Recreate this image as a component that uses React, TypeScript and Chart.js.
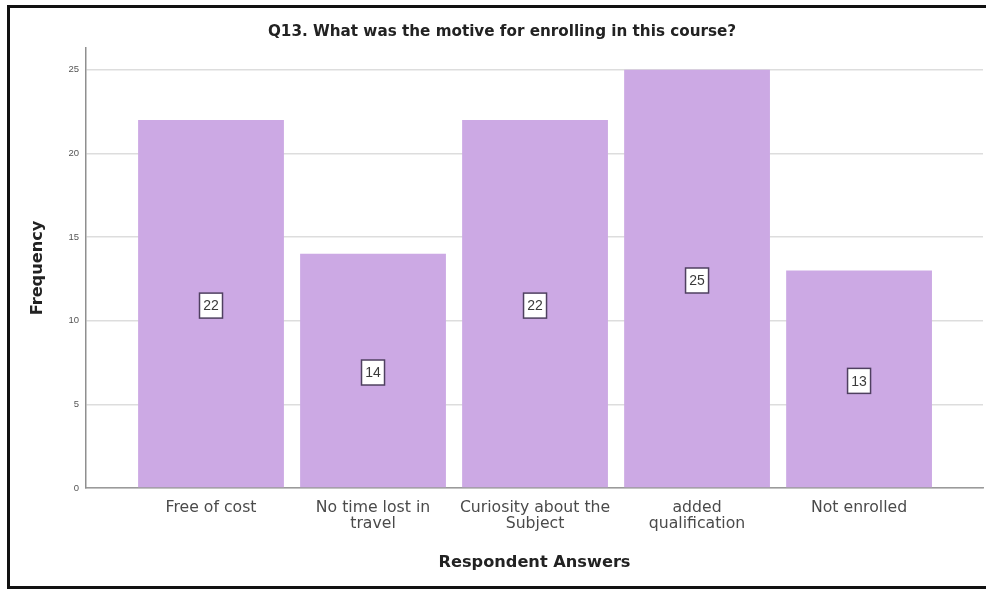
import React, { useEffect, useRef } from "react";
import { Chart, registerables } from "chart.js";

Chart.register(...registerables);

// Survey answers and their frequencies
const answers = [
  "Free of cost",
  "No time lost in travel",
  "Curiosity about the Subject",
  "added qualification",
  "Not enrolled",
];
const frequency = [22, 14, 22, 25, 13];
const answerTickLines = [
  ["Free of cost"],
  ["No time lost in", "travel"],
  ["Curiosity about the", "Subject"],
  ["added", "qualification"],
  ["Not enrolled"],
];
const yTicks = [0, 5, 10, 15, 20, 25];

const chartTitle = "Q13. What was the motive for enrolling in this course?";
const xTitle = "Respondent Answers";
const yTitle = "Frequency";

const FONT = "'Liberation Sans', Arial, sans-serif";
const WIDE_FONT = "'DejaVu Sans', sans-serif";
const BAR_COLOR = "#CCA9E4";

// Titles and boxed value labels drawn on top of the chart
const annotations = {
  id: "annotations",
  afterDatasetsDraw(chart: any) {
    const ctx = chart.ctx;
    const meta = chart.getDatasetMeta(0);
    const values = chart.data.datasets[0].data;
    ctx.save();
    meta.data.forEach((bar: any, i: number) => {
      const v = values[i].y;
      const cx = bar.x;
      const cy = (bar.y + bar.base) / 2 + 2;
      const w = 23;
      const h = 25;
      ctx.fillStyle = "#ffffff";
      ctx.fillRect(cx - w / 2, cy - h / 2, w, h);
      ctx.strokeStyle = "#4f4060";
      ctx.lineWidth = 1.5;
      ctx.strokeRect(cx - w / 2, cy - h / 2, w, h);
      ctx.fillStyle = "#3a3a3a";
      ctx.font = `14px ${FONT}`;
      ctx.textAlign = "center";
      ctx.textBaseline = "middle";
      ctx.fillText(String(v), cx, cy + 1);
    });
    ctx.restore();
  },
  afterDraw(chart: any) {
    const ctx = chart.ctx;
    const area = chart.chartArea;
    ctx.save();
    ctx.fillStyle = "#222222";
    ctx.textAlign = "center";
    ctx.textBaseline = "middle";
    ctx.font = `bold 15.2px ${WIDE_FONT}`;
    ctx.fillText(chartTitle, 502, 32);
    ctx.font = `bold 16.2px ${WIDE_FONT}`;
    ctx.fillText(xTitle, (area.left + area.right) / 2, 563);
    ctx.translate(38, (area.top + area.bottom) / 2);
    ctx.rotate(-Math.PI / 2);
    ctx.fillText(yTitle, 0, 0);
    ctx.restore();
  },
};

export default function App() {
  const canvasRef = useRef<HTMLCanvasElement | null>(null);

  useEffect(() => {
    if (!canvasRef.current) return;
    const chart = new Chart(canvasRef.current, {
      type: "bar",
      data: {
        datasets: [
          {
            label: yTitle,
            data: frequency.map((f, i) => ({ x: i + 1, y: f })),
            backgroundColor: BAR_COLOR,
            borderWidth: 0,
            categoryPercentage: 1,
            barPercentage: 0.9,
          },
        ],
      },
      options: {
        animation: false,
        responsive: false,
        maintainAspectRatio: false,
        layout: { padding: { left: 66, right: 3, top: 48, bottom: 0 } },
        plugins: {
          legend: { display: false },
          tooltip: { enabled: false },
          title: { display: false },
        },
        scales: {
          x: {
            type: "linear",
            offset: false,
            min: 0.2284,
            max: 5.765,
            afterBuildTicks: (scale: any) => {
              scale.ticks = answers.map((_, i) => ({ value: i + 1 }));
            },
            afterFit: (scale: any) => {
              scale.height = 102;
            },
            grid: { display: false, drawTicks: false, offset: false },
            border: { display: true, color: "#9a9a9a", width: 1.5 },
            ticks: {
              autoSkip: false,
              maxRotation: 0,
              padding: 12,
              color: "#4a4a4a",
              font: { family: WIDE_FONT, size: 15.7, lineHeight: 1.02 },
              callback: (value: any) => answerTickLines[Math.round(value) - 1] ?? "",
            },
          },
          y: {
            type: "linear",
            min: 0,
            max: 26.3,
            afterBuildTicks: (scale: any) => {
              scale.ticks = yTicks.map((v) => ({ value: v }));
            },
            afterFit: (scale: any) => {
              scale.width = 20;
            },
            grid: { color: "#dddddd", lineWidth: 1.5, drawTicks: false },
            border: { display: true, color: "#8f8f8f", width: 1.5 },
            ticks: {
              padding: 7,
              color: "#555555",
              font: { family: FONT, size: 9.5 },
            },
          },
        },
      },
      plugins: [annotations],
    });
    return () => chart.destroy();
  }, []);

  return (
    <div
      style={{
        position: "absolute",
        left: 0,
        top: 0,
        width: 986,
        height: 590,
        overflow: "hidden",
        background: "#ffffff",
      }}
    >
      <canvas
        ref={canvasRef}
        width={986}
        height={590}
        style={{ position: "absolute", left: 0, top: 0, width: 986, height: 590 }}
      />
      <div
        style={{
          position: "absolute",
          left: 7,
          top: 5,
          width: 1000,
          height: 584,
          boxSizing: "border-box",
          border: "3px solid #111111",
          pointerEvents: "none",
        }}
      />
    </div>
  );
}
